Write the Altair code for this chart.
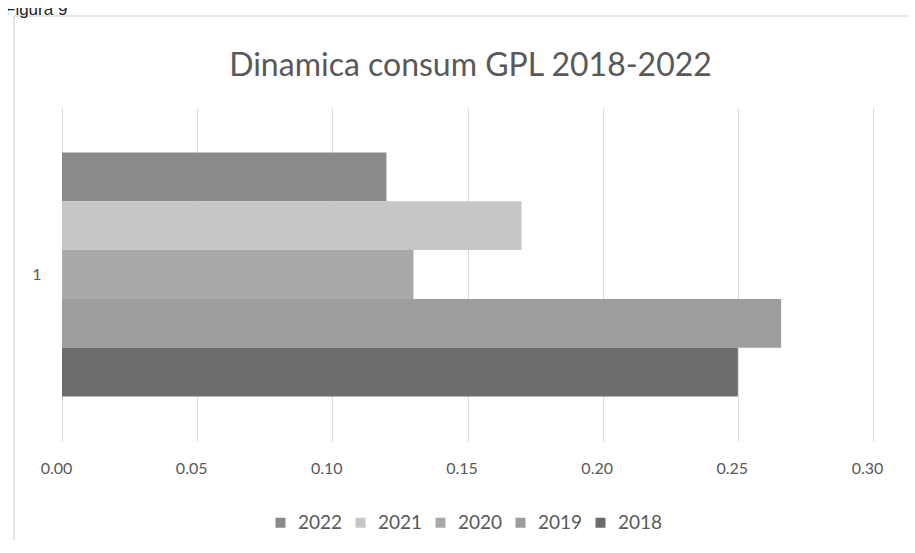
import altair as alt
import pandas as pd

years = ["2022", "2021", "2020", "2019", "2018"]
values = [0.12, 0.17, 0.13, 0.266, 0.25]
colors = ["#8a8a8a", "#c6c6c6", "#a9a9a9", "#9d9d9d", "#6c6c6c"]
category = ["1"] * len(years)
x_ticks = [0.00, 0.05, 0.10, 0.15, 0.20, 0.25, 0.30]
title_text = "Dinamica consum GPL 2018-2022"
figure_label = "Figura 9"

df = pd.DataFrame({"cat": category, "year": years, "value": values})

FONT = "Lato"
TXT = "#595959"
W, H = 811, 333

bars = alt.Chart(df).mark_bar(stroke=None).encode(
    x=alt.X(
        "value:Q",
        scale=alt.Scale(domain=[0, 0.30], nice=False),
        axis=alt.Axis(values=x_ticks, format=".2f", grid=True, gridColor="#d9d9d9",
                      domain=False, ticks=False, title=None, labelPadding=19,
                      labelFlush=False, labelOffset=-6,
                      labelFontSize=16, labelColor=TXT, labelFont=FONT),
    ),
    y=alt.Y(
        "cat:N",
        scale=alt.Scale(paddingInner=0, paddingOuter=0.182),
        axis=alt.Axis(title=None, domain=False, ticks=False, labelPadding=21,
                      labelFontSize=16, labelColor=TXT, labelFont=FONT, labelAngle=0),
    ),
    yOffset=alt.YOffset("year:N", sort=years, scale=alt.Scale(paddingInner=0, paddingOuter=0)),
    color=alt.Color(
        "year:N",
        scale=alt.Scale(domain=years, range=colors),
        legend=alt.Legend(title=None, orient="none", direction="horizontal",
                          legendX=209, legendY=405, symbolType="square", symbolSize=100,
                          symbolStrokeWidth=0, labelFontSize=19, labelColor=TXT,
                          labelFont=FONT, columnPadding=8, labelOffset=8),
    ),
)

frame = alt.Chart(pd.DataFrame({"a": [0]})).mark_rect(
    fill=None, stroke="#dddddd", strokeWidth=1.5
).encode(x=alt.value(-48), x2=alt.value(900), y=alt.value(-92), y2=alt.value(500))

fig = alt.Chart(pd.DataFrame({"t": [figure_label]})).mark_text(
    align="left", baseline="alphabetic", font="Liberation Sans", fontSize=17, color="#222222"
).encode(text="t:N", x=alt.value(-57), y=alt.value(-93))

title = alt.Chart(pd.DataFrame({"t": [title_text]})).mark_text(
    align="center", baseline="middle", font=FONT, fontSize=32, color=TXT
).encode(text="t:N", x=alt.value(W / 2 + 3), y=alt.value(-42))

chart = alt.layer(frame, fig, title, bars).properties(
    width=W,
    height=H,
    autosize=alt.AutoSizeParams(type="none"),
    padding={"left": 54, "top": 100, "right": 34, "bottom": 99},
).configure_view(stroke=None)

chart.save("out.html", embed_options={"renderer": "svg", "actions": False})
